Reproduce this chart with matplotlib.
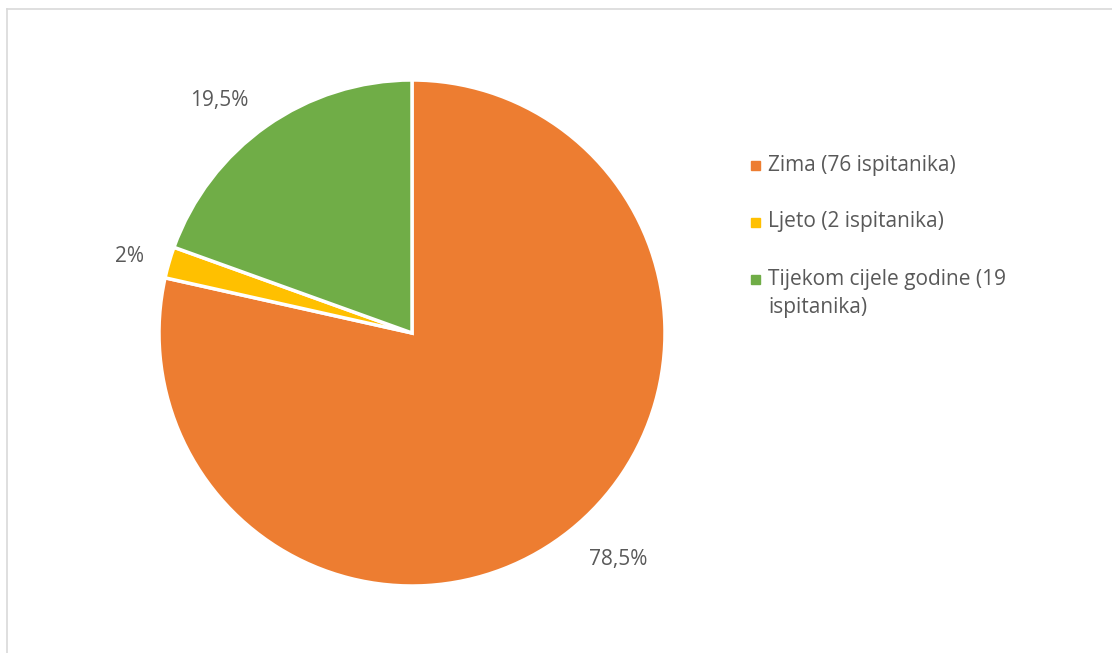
import matplotlib.pyplot as plt
from matplotlib.patches import Rectangle
from matplotlib.lines import Line2D

# data
categories = ['Zima (76 ispitanika)', 'Ljeto (2 ispitanika)', 'Tijekom cijele godine (19\nispitanika)']
shares = [78.5, 2.0, 19.5]
pct_labels = ['78,5%', '2%', '19,5%']
colors = ['#ED7D31', '#FFC000', '#70AD47']

plt.rcParams['font.family'] = ['Open Sans', 'DejaVu Sans']
text_color = '#595959'

W, H = 1112, 653
fig = plt.figure(figsize=(W / 100, H / 100), dpi=100)

# pie axes: centre (412, 333) px, radius 253 px
cx, cy, r = 412, 333, 253
ax = fig.add_axes([(cx - r) / W, (H - cy - r) / H, 2 * r / W, 2 * r / H])
ax.pie(shares, colors=colors, startangle=90, counterclock=False,
       wedgeprops={'edgecolor': 'white', 'linewidth': 2.5})
ax.set_xlim(-1, 1)
ax.set_ylim(-1, 1)
ax.set_aspect('equal')
ax.axis('off')

# data labels (positions in pixel space, Excel "best fit")
label_px = [(618, 560), (130, 256), (219, 100)]
for text, (px, py) in zip(pct_labels, label_px):
    ax.text((px - cx) / r, (cy - py) / r, text, ha='center', va='center',
            fontsize=15, color=text_color)

# legend drawn by hand
leg_y = [165, 222, 279]
line_h = 29
for label, color, y in zip(categories, colors, leg_y):
    fig.patches.append(Rectangle((751 / W, (H - y - 4.5) / H), 9 / W, 9 / H,
                                 transform=fig.transFigure, color=color))
    n = label.count('\n')
    fig.text(768 / W, (H - y - n * line_h / 2) / H, label, ha='left', va='center',
             fontsize=15, color=text_color, linespacing=1.38)

# chart border (top and left visible)
fig.add_artist(Line2D([7 / W, 1.0], [(H - 9) / H, (H - 9) / H], color='#D9D9D9', lw=1.2))
fig.add_artist(Line2D([7 / W, 7 / W], [0, (H - 9) / H], color='#D9D9D9', lw=1.2))

fig.savefig('out.png', dpi=100, facecolor='white')
